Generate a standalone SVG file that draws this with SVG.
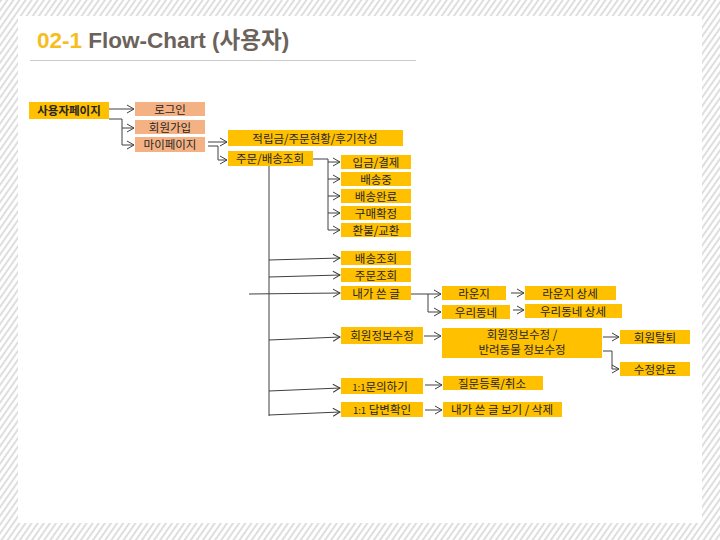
<svg xmlns="http://www.w3.org/2000/svg" width="720" height="540" viewBox="0 0 720 540">
<defs>
<pattern id="hatch" width="5" height="5" patternUnits="userSpaceOnUse" patternTransform="rotate(35)">
<rect width="5" height="5" fill="#ffffff"/>
<line x1="1" y1="0" x2="1" y2="5" stroke="#d6d6d6" stroke-width="1.6"/>
</pattern>
<marker id="arr" markerWidth="10" markerHeight="10" refX="8" refY="5" orient="auto" markerUnits="userSpaceOnUse">
<path d="M1,1 L8,5 L1,9" fill="none" stroke="#404040" stroke-width="1"/>
</marker>
<style>
.b{fill:#FFC000}
.s{fill:#F4B183}
.t{font-family:"Noto Sans CJK KR","Liberation Sans",sans-serif;font-size:11.5px;fill:#262626;text-anchor:middle}
.c{fill:none;stroke:#404040;stroke-width:1}
.a{marker-end:url(#arr)}
</style>
</defs>
<rect width="720" height="540" fill="url(#hatch)"/>
<rect x="18" y="16" width="684" height="507" fill="#ffffff"/>
<g id="title">
<text x="37" y="48" font-family="'Liberation Sans','Noto Sans CJK KR',sans-serif" font-size="22.5" font-weight="bold"><tspan fill="#F5BE1E">02-1 </tspan><tspan fill="#6B635B">Flow-Chart (사용자)</tspan></text>
<line x1="30" y1="60.5" x2="416" y2="60.5" stroke="#cccccc" stroke-width="1"/>
</g>
<g id="connectors">
<path class="c a" d="M109,109 H134"/>
<path class="c a" d="M109,119 H122 V145 H134"/>
<path class="c a" d="M122,128 H134"/>
<path class="c a" d="M208,142 H227"/>
<path class="c a" d="M208,146 H218 V160 H227"/>
<path class="c" d="M313,159 H328 V230"/>
<path class="c a" d="M328,162 H340"/>
<path class="c a" d="M328,179 H340"/>
<path class="c a" d="M328,196 H340"/>
<path class="c a" d="M328,213 H340"/>
<path class="c a" d="M328,230 H340"/>
<path class="c" d="M269,166 V416"/>
<path class="c a" d="M269,260 L340,258"/>
<path class="c a" d="M269,277 L340,275"/>
<path class="c a" d="M249,294 L340,293"/>
<path class="c a" d="M269,340 L340,337"/>
<path class="c a" d="M269,391 L340,388"/>
<path class="c a" d="M269,415 L340,412"/>
<path class="c a" d="M411,294 H441"/>
<path class="c a" d="M428,294 V312 H441"/>
<path class="c a" d="M511,293 H524"/>
<path class="c a" d="M513,310 H524"/>
<path class="c a" d="M424,336 H441"/>
<path class="c a" d="M603,337 H619"/>
<path class="c a" d="M603,351 H612 V369 H619"/>
<path class="c a" d="M425,385 H442"/>
<path class="c a" d="M425,410 H442"/>
</g>
<g id="n1"><rect class="b" x="29" y="102" width="80" height="17"/><text class="t" x="69" y="115" font-weight="bold">사용자페이지</text></g>
<g id="n2"><rect class="s" x="135" y="102" width="70" height="14"/><text class="t" x="170" y="113.5">로그인</text></g>
<g id="n3"><rect class="s" x="135" y="120" width="70" height="14"/><text class="t" x="170" y="131.5">회원가입</text></g>
<g id="n4"><rect class="s" x="135" y="137" width="70" height="15"/><text class="t" x="170" y="149">마이페이지</text></g>
<g id="n5"><rect class="b" x="228" y="130" width="175" height="16"/><text class="t" x="315" y="142.5">적립금/주문현황/후기작성</text></g>
<g id="n6"><rect class="b" x="228" y="151" width="85" height="15"/><text class="t" x="270" y="163">주문/배송조회</text></g>
<g id="n7"><rect class="b" x="341" y="155" width="70" height="14"/><text class="t" x="376" y="166.5">입금/결제</text></g>
<g id="n8"><rect class="b" x="341" y="172" width="70" height="14"/><text class="t" x="376" y="183.5">배송중</text></g>
<g id="n9"><rect class="b" x="341" y="189" width="70" height="14"/><text class="t" x="376" y="200.5">배송완료</text></g>
<g id="n10"><rect class="b" x="341" y="206" width="70" height="14"/><text class="t" x="376" y="217.5">구매확정</text></g>
<g id="n11"><rect class="b" x="341" y="223" width="70" height="14"/><text class="t" x="376" y="234.5">환불/교환</text></g>
<g id="n12"><rect class="b" x="341" y="251" width="70" height="14"/><text class="t" x="376" y="262.5">배송조회</text></g>
<g id="n13"><rect class="b" x="341" y="268" width="70" height="14"/><text class="t" x="376" y="279.5">주문조회</text></g>
<g id="n14"><rect class="b" x="341" y="286" width="70" height="14"/><text class="t" x="376" y="297.5">내가 쓴 글</text></g>
<g id="n15"><rect class="b" x="442" y="286" width="64" height="14"/><text class="t" x="474" y="297.5">라운지</text></g>
<g id="n16"><rect class="b" x="525" y="286" width="91" height="14"/><text class="t" x="570" y="297.5">라운지 상세</text></g>
<g id="n17"><rect class="b" x="442" y="305" width="68" height="14"/><text class="t" x="476" y="316.5">우리동네</text></g>
<g id="n18"><rect class="b" x="525" y="304" width="97" height="14"/><text class="t" x="573" y="315.5">우리동네 상세</text></g>
<g id="n19"><rect class="b" x="341" y="327" width="82" height="17"/><text class="t" x="382" y="340">회원정보수정</text></g>
<g id="n20"><rect class="b" x="442" y="328" width="160" height="30"/><text class="t" x="522" y="339" font-size="11">회원정보수정 /</text><text class="t" x="522" y="354" font-size="11">반려동물 정보수정</text></g>
<g id="n21"><rect class="b" x="620" y="330" width="70" height="14"/><text class="t" x="655" y="341.5">회원탈퇴</text></g>
<g id="n22"><rect class="b" x="620" y="362" width="70" height="14"/><text class="t" x="655" y="373.5">수정완료</text></g>
<g id="n23"><rect class="b" x="341" y="378" width="82" height="16"/><text class="t" x="380" y="390.5"><tspan font-size="9.5">1:1</tspan>문의하기</text></g>
<g id="n24"><rect class="b" x="443" y="376" width="100" height="14"/><text class="t" x="492" y="387.5">질문등록/취소</text></g>
<g id="n25"><rect class="b" x="341" y="402" width="82" height="15"/><text class="t" x="382" y="414"><tspan font-size="9.5">1:1</tspan> 답변확인</text></g>
<g id="n26"><rect class="b" x="443" y="402" width="119" height="15"/><text class="t" x="502" y="414">내가 쓴 글 보기 / 삭제</text></g>
</svg>
